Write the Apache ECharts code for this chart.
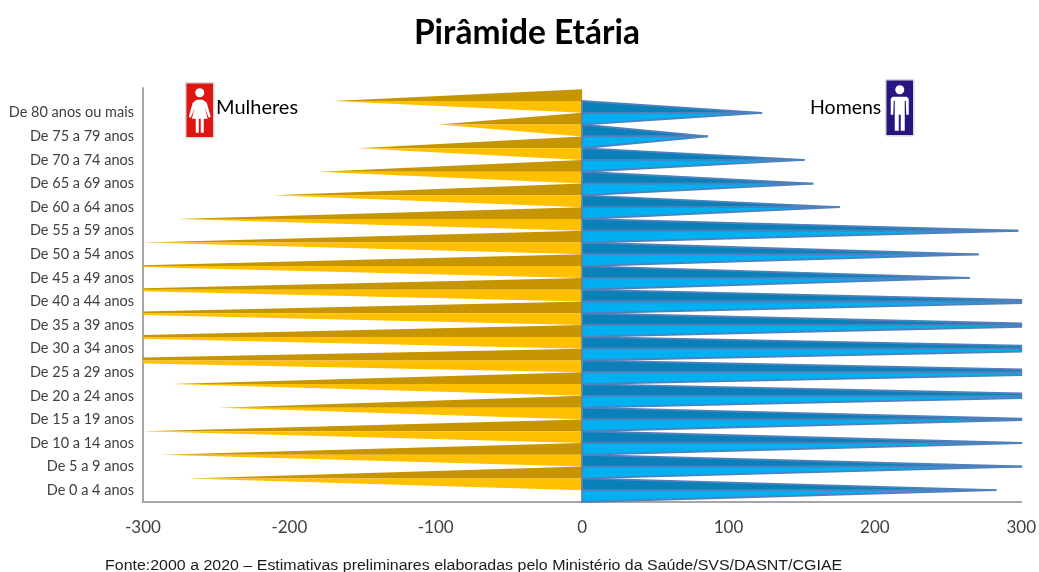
<!DOCTYPE html>
<html><head><meta charset="utf-8">
<style>html,body{margin:0;padding:0;background:#fff}#c{width:1039px;height:572px}</style>
<script src="https://cdn.jsdelivr.net/npm/echarts@6/dist/echarts.min.js"></script>
</head><body><div id="c"></div>
<script>
const categories = ['De 0 a 4 anos','De 5 a 9 anos','De 10 a 14 anos','De 15 a 19 anos','De 20 a 24 anos','De 25 a 29 anos','De 30 a 34 anos','De 35 a 39 anos','De 40 a 44 anos','De 45 a 49 anos','De 50 a 54 anos','De 55 a 59 anos','De 60 a 64 anos','De 65 a 69 anos','De 70 a 74 anos','De 75 a 79 anos','De 80 anos ou mais'];
const mulheres = [-269,-288,-302,-248,-281,-400,-360,-350,-343,-327,-302,-277,-211,-180,-153,-98,-170];
const homens = [283,303,305,320,375,395,405,350,345,265,271,298,176,158,152,86,123];
const axisLimit = 300;
const FONT = 'Lato, Carlito, sans-serif';

function wedge(dark, light, stroke, shift) {
  return function (params, api) {
    const v = api.value(0), i = api.value(1);
    const base = api.coord([0, i]);
    const band = api.size([0, 1])[1];
    const yc = base[1] + shift * band;
    const s = v < 0 ? -1 : 1;
    const lim = Math.min(Math.abs(v), axisLimit);
    const xEnd = api.coord([s * lim, i])[0];
    const half = band / 2;
    const endHalf = half * (1 - lim / Math.abs(v));
    const st = stroke ? { stroke: stroke, lineWidth: 1.8, lineJoin: 'miter' } : { stroke: null };
    const poly = (pts, fill) => ({ type: 'polygon', shape: { points: pts }, style: Object.assign({ fill: fill }, st) });
    return { type: 'group', children: [
      poly([[base[0], yc - half], [base[0], yc], [xEnd, yc], [xEnd, yc - endHalf]], dark),
      poly([[base[0], yc], [base[0], yc + half], [xEnd, yc + endHalf], [xEnd, yc]], light)
    ]};
  };
}

function icon(x, y, w, h, color, female) {
  const cx = w / 2;
  const fig = female
    ? [[cx-3,17],[cx+3,17],[cx+7,20],[cx+11,34],[cx+9,35],[cx+5,25],[cx+8,36],[cx+4,36],[cx+4,50],[cx+1,50],[cx+1,36],[cx-1,36],[cx-1,50],[cx-4,50],[cx-4,36],[cx-8,36],[cx-5,25],[cx-9,35],[cx-11,34],[cx-7,20]]
    : [[cx-7,17],[cx+7,17],[cx+9,19],[cx+9,35],[cx+6.5,35],[cx+6,21],[cx+5,21],[cx+5,51],[cx+1,51],[cx+1,35],[cx-1,35],[cx-1,51],[cx-5,51],[cx-5,21],[cx-6,21],[cx-6.5,35],[cx-9,35],[cx-9,19]];
  return { type: 'group', left: x, top: y, children: [
    { type: 'rect', shape: { x: 0, y: 0, width: w, height: h, r: 1 }, style: { fill: color, stroke: '#d9d9d9', lineWidth: 1.5 } },
    { type: 'circle', shape: { cx: cx, cy: 10, r: 4.5 }, style: { fill: '#fff' } },
    { type: 'polygon', shape: { points: fig }, style: { fill: '#fff' } }
  ]};
}

const chart = echarts.init(document.getElementById('c'), null, { renderer: 'canvas' });
chart.setOption({
  animation: false,
  backgroundColor: '#fff',
  title: [
    { text: 'Pirâmide Etária', left: 522, top: 11, textAlign: 'center', textStyle: { fontFamily: FONT, fontSize: 33.5, fontWeight: 'bold', color: '#000' } },
    { text: 'Mulheres', left: 211, top: 93, textStyle: { fontFamily: FONT, fontSize: 20, fontWeight: 'normal', color: '#000' } },
    { text: 'Homens', left: 805, top: 93, textStyle: { fontFamily: FONT, fontSize: 19.5, fontWeight: 'normal', color: '#000' } }
  ],
  grid: [
    { left: 143, right: 14, top: 101, bottom: 70 },
    { left: 143, right: 14, top: 88, bottom: 70 }
  ],
  xAxis: [
    { type: 'value', gridIndex: 0, min: -300, max: 300, interval: 100,
      axisLine: { show: true, onZero: false, lineStyle: { color: '#a6a6a6', width: 2 } },
      axisTick: { show: false }, splitLine: { show: false },
      axisLabel: { margin: 17, fontFamily: FONT, fontSize: 17, color: '#404040' } },
    { type: 'value', gridIndex: 1, min: -300, max: 300, show: false }
  ],
  yAxis: [
    { type: 'category', gridIndex: 0, data: categories,
      axisLine: { show: false }, axisTick: { show: false },
      axisLabel: { margin: 9, interval: 0, fontFamily: FONT, fontSize: 14.5, color: '#404040', padding: [6, 0, 0, 0] } },
    { type: 'value', gridIndex: 1, min: 0, max: 1,
      axisLine: { show: true, onZero: false, lineStyle: { color: '#a6a6a6', width: 2 } },
      axisTick: { show: false }, axisLabel: { show: false }, splitLine: { show: false } }
  ],
  series: [
    { name: 'Mulheres', type: 'custom', clip: false, xAxisIndex: 0, yAxisIndex: 0,
      renderItem: wedge('#c69500', '#ffc000', null, -0.5),
      encode: { x: 0, y: 1 }, data: mulheres.map((v, i) => [v, i]) },
    { name: 'Homens', type: 'custom', clip: false, xAxisIndex: 0, yAxisIndex: 0,
      renderItem: wedge('#0a80b8', '#00b0f0', '#4f81bd', 0),
      encode: { x: 0, y: 1 }, data: homens.map((v, i) => [v, i]) }
  ],
  graphic: [
    icon(185, 82, 28, 55, '#dd1612', true), icon(885, 79, 28, 56, '#2a1480', false),
    { type: 'text', x: 105, y: 559, scaleX: 1.14, scaleY: 1, style: { text: 'Fonte:2000 a 2020 – Estimativas preliminares elaboradas pelo Ministério da Saúde/SVS/DASNT/CGIAE', font: '14px "Liberation Sans", Arial, sans-serif', fill: '#1a1a1a' } }
  ]
});
</script></body></html>
